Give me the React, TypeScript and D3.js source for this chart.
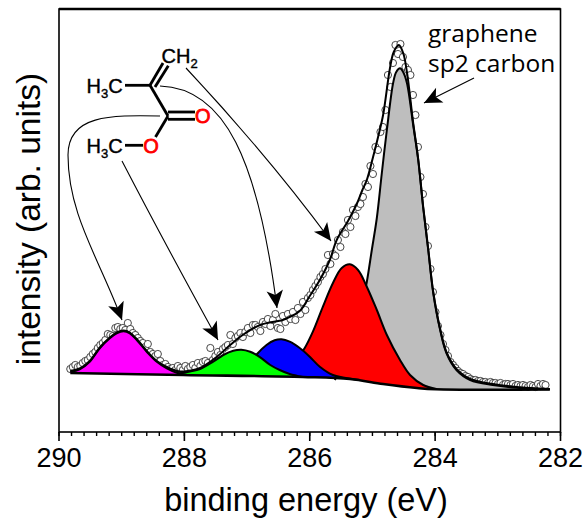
import React from 'react'
import * as d3 from 'd3'

const width = 584
const height = 524
const majorTicks = [290, 288, 286, 284, 282]

// baseline under the fitted peaks
const bgEnergy = [289.82, 288.02, 286.11, 285.36, 284.83, 284.29, 283.99, 282.17]
const bgValue = [59, 57, 55, 53, 48, 44, 42.7, 42.5]

const magentaEnergy = [289.82, 289.67, 289.51, 289.35, 289.19, 289.08, 288.97, 288.87, 288.76, 288.6, 288.44, 288.28, 288.12, 287.96]
const magentaValue = [60.3, 62.7, 70.3, 83.7, 93.7, 98.7, 100.7, 98.7, 92, 80.3, 70.3, 63.7, 59.3, 57]

const greenEnergy = [288.18, 288.07, 287.91, 287.75, 287.54, 287.38, 287.22, 287.09, 286.95, 286.79, 286.63, 286.48, 286.32, 286.11]
const greenValue = [58, 58.7, 60.5, 63, 70.3, 77, 81.3, 82.3, 80.3, 74.7, 67, 62, 58, 55]

const blueEnergy = [287.19, 287.03, 286.84, 286.69, 286.56, 286.45, 286.32, 286.16, 286, 285.84, 285.63, 285.47, 285.2]
const blueValue = [57, 62, 78, 87, 91.7, 92.7, 90.3, 84, 75.3, 65.3, 57, 54.5, 52]

const redEnergy = [286.63, 286.4, 286.22, 286.08, 285.95, 285.79, 285.63, 285.49, 285.36, 285.23, 285.09, 284.93, 284.77, 284.56, 284.4, 284.19, 283.98]
const redValue = [56, 62, 72, 84, 100.3, 125.3, 149, 164, 167.7, 162, 145.3, 122, 97, 72, 57, 47, 43]

const grayEnergy = [285.6, 285.44, 285.28, 285.18, 285.09, 285.01, 284.93, 284.85, 284.77, 284.67, 284.62, 284.56, 284.51, 284.45, 284.35, 284.27, 284.19, 284.11, 284.03, 283.92, 283.82, 283.66, 283.44, 283.08, 282.7, 282.17]
const grayValue = [52, 72, 97, 122, 150, 182, 214, 259, 302, 349, 360, 363.7, 360, 349, 307, 272, 224, 182, 139, 102, 79, 62, 52, 47, 44.3, 42.7]

// overall fit through the measured points
const fitEnergy = [289.82, 289.67, 289.51, 289.35, 289.19, 289.08, 288.97, 288.87, 288.76, 288.6, 288.44, 288.28, 288.12, 288.02, 287.75, 287.48, 287.27, 287.07, 286.79, 286.43, 286.32, 286.16, 286, 285.84, 285.68, 285.57, 285.39, 285.25, 285.16, 285.09, 284.99, 284.91, 284.83, 284.72, 284.66, 284.58, 284.51, 284.45, 284.35, 284.27, 284.19, 284.11, 284.03, 283.92, 283.82, 283.66, 283.44, 283.08, 282.7, 282.17]
const fitValue = [61, 63.5, 71, 84.5, 94.5, 99.5, 101.5, 99.5, 93, 81, 71, 65, 61, 60.5, 64, 75.3, 87, 97, 107, 112, 115, 121, 136, 152, 172, 192, 211, 228, 242, 252, 275, 295, 317, 364, 380, 387, 379, 360, 309, 273, 225, 183, 140, 103, 80, 63, 53, 48, 45, 43]

// measured spectrum, one value per channel
const scanStart = 289.82
const scanStep = 0.0399
const scanValue = [
  63, 65, 67, 65, 66, 69, 71, 72, 75, 78,
  80, 84, 87, 89, 92, 98, 97, 96, 104, 105,
  103, 104, 102, 109, 103, 99, 97, 94, 91, 89,
  85, 88, 80, 78, 76, 78, 71, 67, 68, 65,
  63, 64, 62, 66, 64, 62, 66, 63, 65, 67,
  64, 69, 66, 70, 71, 69, 84, 72, 76, 80,
  77, 83, 85, 87, 97, 88, 94, 96, 99, 95,
  100, 104, 99, 107, 107, 105, 101, 110, 108, 113,
  106, 112, 118, 104, 103, 116, 110, 118, 113, 120,
  112, 124, 118, 130, 122, 134, 137, 142, 146, 150,
  155, 158, 163, 177, 168, 178, 176, 192, 185, 200,
  198, 212, 205, 222, 216, 225, 228, 235, 248, 245,
  266, 258, 285, 282, 300, 305, 322, 357, 345, 369,
  387, 378, 388, 375, 365, 362, 357, 337, 317, 285,
  255, 238, 205, 186, 163, 140, 120, 106, 97, 88,
  82, 76, 70, 67, 64, 61, 59, 58, 56, 55,
  53, 52, 52, 51, 51, 50, 50, 49, 50, 49,
  49, 48, 49, 47, 48, 48, 47, 48, 46, 47,
  46, 47, 46, 45, 47, 46, 45, 48, 46, 48,
  47,
]

const x = d3.scaleLinear().domain([290, 282]).range([59, 560.5])
const y = d3.scaleLinear().domain([0, 423]).range([432, 9])
const bgAt = d3.scaleLinear().domain(bgEnergy).range(bgValue).clamp(true)

const lineGen = d3.line<number>()
  .x(d => x(d))
  .curve(d3.curveCatmullRom.alpha(0.5))

function linePath(es: number[], vs: number[]) {
  return lineGen.y((d, i) => y(vs[i]))(es) || ''
}

const areaGen = d3.area<number>()
  .x(d => x(d))
  .curve(d3.curveCatmullRom.alpha(0.5))

function areaPath(es: number[], vs: number[]) {
  return areaGen.y0(d => y(bgAt(d))).y1((d, i) => y(vs[i]))(es) || ''
}

// drawn back to front, the lower-energy peaks sit behind
const peaks = [
  { energy: grayEnergy, value: grayValue, fill: '#bebebe' },
  { energy: redEnergy, value: redValue, fill: '#ff0000' },
  { energy: blueEnergy, value: blueValue, fill: '#0000ff' },
  { energy: greenEnergy, value: greenValue, fill: '#00ff00' },
  { energy: magentaEnergy, value: magentaValue, fill: '#ff00ff' },
]

const sans = '"Liberation Sans", Arial, sans-serif'

function Methyl({ px, py }: { px: number, py: number }) {
  return (
    <text x={px} y={py} fontFamily={sans} fontSize={20} fill="black" stroke="black" strokeWidth={0.4}>
      H<tspan fontSize={13} dy={5}>3</tspan><tspan dy={-5}>C</tspan>
    </text>
  )
}

export default function App() {
  const minor = x.ticks(40)
  return (
    <svg width={width} height={height} viewBox={`0 0 ${width} ${height}`}
      style={{ position: 'fixed', left: 0, top: 0, display: 'block', background: 'white' }}>
      <defs>
        <marker id="head" markerUnits="userSpaceOnUse" markerWidth="22" markerHeight="22"
          viewBox="-18 -9 20 18" refX="0" refY="0" orient="auto">
          <path d="M0,0 L-16,-7.5 L-12,0 L-16,7.5 Z" fill="black" />
        </marker>
      </defs>

      {scanValue.map((v, i) => (
        <circle key={i} cx={x(scanStart - i * scanStep)} cy={y(v)} r={3.6}
          fill="white" stroke="#333" strokeWidth={0.9} />
      ))}

      {peaks.map((p, i) => (
        <g key={i}>
          <path d={areaPath(p.energy, p.value)} fill={p.fill} />
          <path d={linePath(p.energy, p.value)} fill="none" stroke="black" strokeWidth={2} />
        </g>
      ))}
      <path d={linePath(bgEnergy, bgValue)} fill="none" stroke="black" strokeWidth={2.6} />
      <path d={linePath(fitEnergy, fitValue)} fill="none" stroke="black" strokeWidth={2} />

      {/* frame */}
      <rect x={59} y={9} width={501.5} height={423} fill="none" stroke="black" strokeWidth={1.6} />
      <line x1={59} x2={560.5} y1={9} y2={9} stroke="black" strokeWidth={2.6} />
      {minor.map(t => (
        <line key={t} x1={x(t)} x2={x(t)} y1={432} y2={436} stroke="black" strokeWidth={1.4} />
      ))}
      {majorTicks.map(t => (
        <g key={t}>
          <line x1={x(t)} x2={x(t)} y1={432} y2={441} stroke="black" strokeWidth={1.6} />
          <text x={x(t)} y={467} textAnchor="middle" fontFamily={sans} fontSize={27} fill="black">{t}</text>
        </g>
      ))}
      <text x={306} y={511} textAnchor="middle" fontFamily={sans} fontSize={32.5} fill="black">binding energy (eV)</text>
      <text transform="translate(40,219) rotate(-90)" textAnchor="middle" fontFamily={sans} fontSize={33.5} fill="black">intensity (arb. units)</text>

      <text x={428} y={42} fontFamily='"Open Sans", sans-serif' fontSize={24.5} fill="black">graphene</text>
      <text x={428} y={72} fontFamily='"Open Sans", sans-serif' fontSize={24.5} fill="black">sp2 carbon</text>

      {/* molecule */}
      <g stroke="black" strokeWidth={2.8} fill="none">
        <line x1={150} y1={85.3} x2={163} y2={63} />
        <line x1={155} y1={87} x2={168.3} y2={65.7} />
        <line x1={125} y1={85.3} x2={150} y2={85.3} />
        <line x1={150} y1={85.3} x2={168} y2={116} />
        <line x1={168} y1={112} x2={195} y2={112} />
        <line x1={168} y1={119.3} x2={195} y2={119.3} />
        <line x1={168} y1={116} x2={155.5} y2={137} />
        <line x1={125} y1={145.3} x2={143} y2={145.3} />
      </g>
      <text x={161.5} y={62.7} fontFamily={sans} fontSize={20} fill="black" stroke="black" strokeWidth={0.4}>CH<tspan fontSize={13} dy={5}>2</tspan></text>
      <Methyl px={86.5} py={92.7} />
      <Methyl px={86.5} py={152.7} />
      <text x={202.7} y={123} textAnchor="middle" fontFamily={sans} fontSize={20} fill="#ff0000" stroke="#ff0000" strokeWidth={0.8}>O</text>
      <text x={151} y={153} textAnchor="middle" fontFamily={sans} fontSize={20} fill="#ff0000" stroke="#ff0000" strokeWidth={0.8}>O</text>

      {/* arrows from the molecule to the peaks */}
      <g fill="none" stroke="black" strokeWidth={1.1}>
        <path d="M186 68 C230 115 280 172 331 241" markerEnd="url(#head)" />
        <path d="M160 86 C225 88 258 160 277 308" markerEnd="url(#head)" />
        <path d="M160 116 C110 115 68 115 68 155 C68 215 100 260 122 320" markerEnd="url(#head)" />
        <path d="M122 161 C150 215 185 280 218 340" markerEnd="url(#head)" />
        <path d="M474 78 L424 103" markerEnd="url(#head)" />
      </g>
    </svg>
  )
}
